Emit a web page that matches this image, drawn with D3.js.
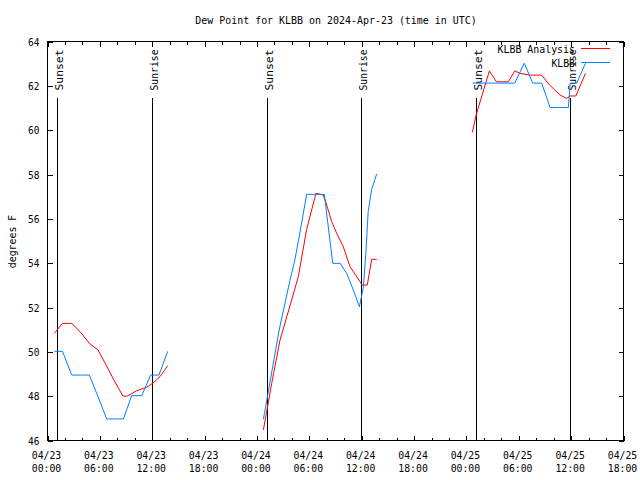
<!DOCTYPE html>
<html>
<head>
<meta charset="utf-8">
<script src="https://cdn.jsdelivr.net/npm/d3@7"></script>
<style>
  html, body { margin: 0; padding: 0; background: #fff; }
  svg { display: block; }
</style>
</head>
<body>
<svg id="chart" width="640" height="480"></svg>
<script>
// ---------------- data (hours after 2024-04-23 00:00 UTC) ----------------
const titleText = "Dew Point for KLBB on 2024-Apr-23 (time in UTC)";
const yLabel = "degrees F";
const seriesNames = ["KLBB Analysis", "KLBB"];

// KLBB Analysis (red); null breaks the line
const analysisHours = [0.84, 1.76, 2.83, 3.8, 4.85, 5.85, 6.84, 7.7, 8.7, 9.2, 10.28, 11.42, 12.18, 12.95, 13.83,
  19,
  24.79, 25.2, 25.75, 26.7, 27.8, 28.8, 29.75, 30.82, 31.66, 32.05, 32.62, 33.2, 33.95, 34.72, 35.87, 36.1, 36.7, 37.2, 37.77,
  43,
  48.74, 49.2, 50.69, 51.5, 52.86, 53.6, 54.2, 55.35, 56.68, 57.6, 58.8, 59.55, 59.93, 60.6, 61.7];
const analysisDewpt = [50.81, 51.26, 51.26, 50.88, 50.36, 50.06, 49.33, 48.68, 47.98, 47.98, 48.22, 48.38, 48.58, 48.86, 49.35,
  null,
  46.45, 47.35, 48.56, 50.51, 52.0, 53.37, 55.5, 57.13, 57.05, 56.6, 55.85, 55.32, 54.72, 53.82, 53.14, 52.99, 52.99, 54.15, 54.15,
  null,
  59.88, 60.7, 62.65, 62.16, 62.16, 62.65, 62.54, 62.46, 62.46, 62.01, 61.56, 61.41, 61.52, 61.52, 62.54];

// KLBB observations (blue)
const obsHours = [0.84, 1.78, 2.83, 3.83, 4.85, 5.85, 6.84, 7.8, 8.75, 9.7, 10.85, 11.88, 12.83, 13.83,
  19,
  24.79, 25.36, 26.6, 27.84, 28.4, 29.1, 29.75, 30.8, 31.78, 32.74, 33.6, 34.34, 35.1, 35.8, 36.1, 36.25, 36.55, 36.8, 37.2, 37.77,
  43,
  48.74, 49.7, 50.7, 51.7, 52.7, 53.6, 54.69, 55.65, 56.68, 57.64, 58.7, 59.74, 59.95, 60.7, 61.7];
const obsDewpt = [50.0, 50.0, 48.93, 48.93, 48.93, 47.95, 46.95, 46.95, 46.95, 48.0, 48.0, 48.93, 48.93, 50.0,
  null,
  46.93, 48.18, 50.96, 53.2, 54.12, 55.62, 57.08, 57.08, 57.08, 53.97, 53.97, 53.52, 52.77, 52.01, 52.6, 52.9, 54.5, 56.3, 57.3, 58.0,
  null,
  62.1, 62.1, 62.1, 62.1, 62.1, 62.1, 63.0, 62.1, 62.1, 61.0, 61.0, 61.0, 62.1, 62.1, 63.0];

// sunrise / sunset markers
const sunLabels = ["Sunset", "Sunrise", "Sunset", "Sunrise", "Sunset", "Sunrise"];
const sunHours = [1.18, 12.07, 25.2, 36.02, 49.16, 59.93];

const yTicks = [46, 48, 50, 52, 54, 56, 58, 60, 62, 64];
const xMajorHours = [0, 6, 12, 18, 24, 30, 36, 42, 48, 54, 60, 66];
const xTickDates = ["04/23", "04/23", "04/23", "04/23", "04/24", "04/24", "04/24", "04/24", "04/25", "04/25", "04/25", "04/25"];
const xTickTimes = ["00:00", "06:00", "12:00", "18:00", "00:00", "06:00", "12:00", "18:00", "00:00", "06:00", "12:00", "18:00"];

// ---------------- drawing ----------------
const W = 640, H = 480;
const L = 47, R = 623, T = 41, B = 440;
const base = Date.UTC(2024, 3, 23, 0, 0);
const toDate = h => new Date(base + h * 3600e3);

const x = d3.scaleUtc().domain([toDate(0), toDate(66)]).range([L, R]);
const y = d3.scaleLinear().domain([46, 64]).range([B, T]);

const svg = d3.select("#chart");
const FONT = "DejaVu Sans Mono";
const FS = 10.5;
const CW = 6; // character advance in px

function txt(parent, s) {
  return parent.append("text")
    .text(s)
    .attr("font-family", FONT)
    .attr("font-size", FS)
    .attr("fill", "#000")
    .attr("textLength", s.length * CW - 0.5)
    .attr("lengthAdjust", "spacingAndGlyphs");
}

svg.append("rect").attr("width", W).attr("height", H).attr("fill", "#fff");

// minor and major ticks, all four sides, inward
const minorHours = d3.range(0, 67, 2);
const gAx = svg.append("g").attr("shape-rendering", "crispEdges");

function ticksX(hoursArr, len, yPos, dir) {
  gAx.append("g").attr("transform", `translate(0.5,${yPos + 0.5})`)
    .call((dir > 0 ? d3.axisBottom(x) : d3.axisTop(x))
      .tickValues(hoursArr.map(toDate)).tickSize(-len).tickSizeOuter(0).tickFormat(""))
    .call(g => g.select(".domain").remove())
    .call(g => g.selectAll("line").attr("stroke", "#000"));
}
ticksX(minorHours, 3, B, 1);
ticksX(xMajorHours, 5, B, 1);
ticksX(minorHours, 3, T, -1);
ticksX(xMajorHours, 5, T, -1);

gAx.append("g").attr("transform", `translate(${L + 0.5},0.5)`)
  .call(d3.axisLeft(y).tickValues(yTicks).tickSize(-5).tickSizeOuter(0).tickFormat(""))
  .call(g => g.select(".domain").remove())
  .call(g => g.selectAll("line").attr("stroke", "#000"));
gAx.append("g").attr("transform", `translate(${R + 0.5},0.5)`)
  .call(d3.axisRight(y).tickValues(yTicks).tickSize(-5).tickSizeOuter(0).tickFormat(""))
  .call(g => g.select(".domain").remove())
  .call(g => g.selectAll("line").attr("stroke", "#000"));

// frame
gAx.append("rect")
  .attr("x", L + 0.5).attr("y", T + 0.5)
  .attr("width", R - L).attr("height", B - T)
  .attr("fill", "none").attr("stroke", "#000").attr("stroke-width", 1);

// y tick labels
yTicks.forEach(v => {
  txt(svg, String(v)).attr("x", L - 7.5).attr("y", y(v) + 4.5).attr("text-anchor", "end");
});

// x tick labels
xMajorHours.forEach((h, i) => {
  const xx = x(toDate(h)) - 0.5;
  txt(svg, xTickDates[i]).attr("x", xx).attr("y", B + 19).attr("text-anchor", "middle");
  txt(svg, xTickTimes[i]).attr("x", xx).attr("y", B + 31.5).attr("text-anchor", "middle");
});

// title and axis label
txt(svg, titleText).attr("x", 336).attr("y", 24).attr("text-anchor", "middle");
txt(svg, yLabel).attr("text-anchor", "middle")
  .attr("transform", `translate(16,${(T + B) / 2 + 1}) rotate(-90)`);

// sunrise / sunset lines
sunHours.forEach((h, i) => {
  const xx = Math.round(x(toDate(h))) + 0.5;
  svg.append("line").attr("x1", xx).attr("x2", xx).attr("y1", 98).attr("y2", B)
    .attr("stroke", "#000").attr("stroke-width", 1).attr("shape-rendering", "crispEdges");
  txt(svg, sunLabels[i]).attr("textLength", 41).attr("text-anchor", "end")
    .attr("transform", `translate(${xx + 5},49.5) rotate(-90)`);
});

// data lines
const line = d3.line()
  .defined(d => d[1] != null)
  .x(d => x(toDate(d[0])))
  .y(d => y(d[1]));

const analysisData = analysisHours.map((h, i) => [h, analysisDewpt[i]]);
const obsData = obsHours.map((h, i) => [h, obsDewpt[i]]);

svg.append("path").datum(analysisData).attr("d", line)
  .attr("fill", "none").attr("stroke", "#ff0000").attr("stroke-width", 1);
svg.append("path").datum(obsData).attr("d", line)
  .attr("fill", "none").attr("stroke", "#0080ff").attr("stroke-width", 1);

// legend
const legColors = ["#ff0000", "#0080ff"];
const legY = [48.5, 62.5];
seriesNames.forEach((nm, i) => {
  txt(svg, nm).attr("x", 575).attr("y", legY[i] + 4.5).attr("text-anchor", "end");
  svg.append("line").attr("x1", 581).attr("x2", 610).attr("y1", legY[i]).attr("y2", legY[i])
    .attr("stroke", legColors[i]).attr("stroke-width", 1).attr("shape-rendering", "crispEdges");
});
</script>
</body>
</html>
